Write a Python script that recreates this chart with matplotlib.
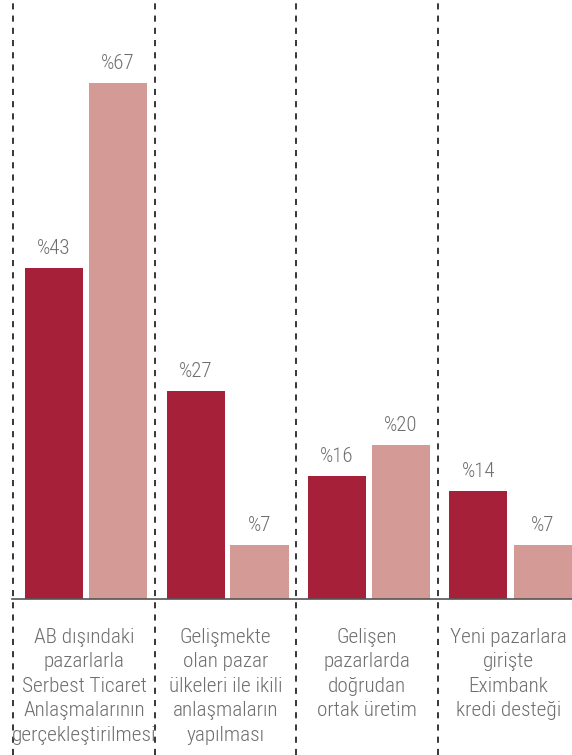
import matplotlib.pyplot as plt
from matplotlib import font_manager

categories = [
    "AB dışındaki\npazarlarla\nSerbest Ticaret\nAnlaşmalarının\ngerçekleştirilmesi",
    "Gelişmekte\nolan pazar\nülkeleri ile ikili\nanlaşmaların\nyapılması",
    "Gelişen\npazarlarda\ndoğrudan\nortak üretim",
    "Yeni pazarlara\ngirişte\nEximbank\nkredi desteği",
]
series_a = [43, 27, 16, 14]
series_b = [67, 7, 20, 7]

dark = "#A52038"
pink = "#D49B96"
grey = "#6e6e6e"

# pick a condensed family if one is installed
names = {f.name for f in font_manager.fontManager.ttflist}
family = "DejaVu Sans"
for cand in ["Roboto Condensed", "Liberation Sans Narrow", "Archivo Narrow",
             "Asap Condensed", "Open Sans Condensed"]:
    if cand in names:
        family = cand
        break
plt.rcParams["font.family"] = [family, "DejaVu Sans"]
plt.rcParams["font.weight"] = 300
plt.rcParams["font.stretch"] = "condensed"

fig = plt.figure(figsize=(5.72, 7.55), dpi=100)
ax = fig.add_axes([0, 0, 1, 1])

# pixel-ish scaling: group spacing 141.5 px, 7.7 px per percent
gap = 141.5
ppu = 7.7
x0 = -84 / gap
ax.set_xlim(x0, x0 + 572 / gap)
ax.set_ylim(-156 / ppu, 599 / ppu)
ax.axis("off")

w = 58 / gap
off_a = -30 / gap
off_b = 34 / gap
for i, (a, b) in enumerate(zip(series_a, series_b)):
    ax.bar(i + off_a, a, width=w, color=dark)
    ax.bar(i + off_b, b, width=w, color=pink)
    ax.text(i + off_a, a + 10 / ppu, f"%{a}", ha="center", va="bottom",
            fontsize=15, color=grey)
    ax.text(i + off_b, b + 10 / ppu, f"%{b}", ha="center", va="bottom",
            fontsize=15, color=grey)
    ax.text(i, -29 / ppu, categories[i], ha="center", va="top",
            fontsize=15.3, color=grey, linespacing=1.36)
    ax.axvline(i - 71 / gap, color="black", lw=1.1, ls=(0, (4, 4)))

ax.plot([x0 + 12 / gap, x0 + 572 / gap], [0, 0], color="#555555", lw=1.2)

plt.savefig("out.png", dpi=100)
